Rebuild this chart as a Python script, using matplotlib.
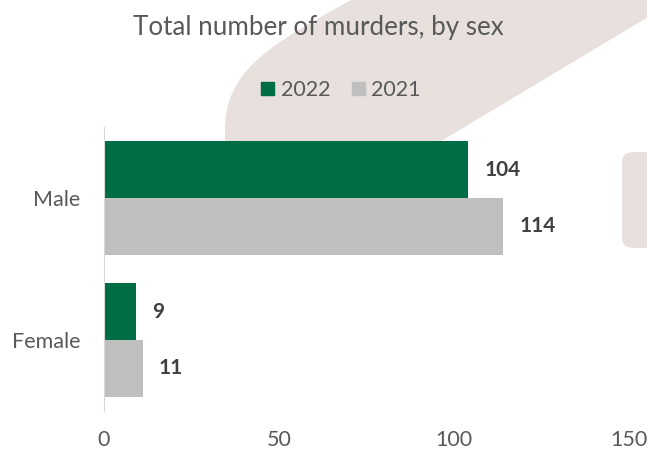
import numpy as np
import matplotlib
matplotlib.use('Agg')
import matplotlib.pyplot as plt
from matplotlib.path import Path
from matplotlib.patches import PathPatch, FancyBboxPatch, Patch

# Datos del gráfico
categorias = ['Female', 'Male']
valores_2022 = [9, 104]
valores_2021 = [11, 114]
ticks_x = [0, 50, 100, 150]

VERDE = '#006e44'
GRIS = '#bfbfbf'
BEIGE = '#e7e0dd'
TEXTO = '#595959'

plt.rcParams['font.family'] = ['Lato', 'DejaVu Sans']

W, H = 647, 453
fig = plt.figure(figsize=(W / 100, H / 100), dpi=100)


def px(x, y):
    """Convierte pixeles (origen arriba-izquierda) a coordenadas de figura"""
    return (x / W, 1 - y / H)


# Marca de agua de fondo (banda diagonal)
pts = [(225, 198), (225, 130), (225, 70), (270, 45), (351, 0),
       (420, -40), (700, -40), (700, -14), (346, 198), (225, 198)]
codes = [Path.MOVETO, Path.LINETO, Path.CURVE4, Path.CURVE4, Path.CURVE4,
         Path.LINETO, Path.LINETO, Path.LINETO, Path.LINETO, Path.CLOSEPOLY]
banda = Path([px(*p) for p in pts], codes)
fig.patches.append(PathPatch(banda, transform=fig.transFigure, facecolor=BEIGE,
                             edgecolor='none', zorder=-5))
x0, y0 = px(622, 248)
x1, y1 = px(670, 152)
fig.patches.append(FancyBboxPatch((x0, y0), x1 - x0, y1 - y0,
                                  boxstyle='round,pad=0,rounding_size=0.02',
                                  transform=fig.transFigure, facecolor=BEIGE,
                                  edgecolor='none', zorder=-5))

ax = fig.add_axes([104 / W, 1 - 411 / H, (629 - 104) / W, (411 - 127) / H])
ax.patch.set_alpha(0)

y = np.arange(len(categorias))
alto = 0.4
b22 = ax.barh(y + alto / 2, valores_2022, height=alto, color=VERDE, label='2022')
b21 = ax.barh(y - alto / 2, valores_2021, height=alto, color=GRIS, label='2021')

for barras in (b22, b21):
    for r in barras:
        v = r.get_width()
        ax.text(v + 4.7, r.get_y() + r.get_height() / 2, f'{v:g}',
                va='center', ha='left', fontsize=15, fontweight='bold',
                color='#404040')

ax.set_xlim(0, 150)
ax.set_ylim(-0.5, 1.5)
ax.set_xticks(ticks_x)
ax.set_yticks(y)
ax.set_yticklabels(categorias)
ax.tick_params(axis='both', length=0, labelsize=15.5, labelcolor=TEXTO)
ax.tick_params(axis='x', pad=14)
ax.tick_params(axis='y', pad=17)
for lado in ['top', 'right', 'bottom']:
    ax.spines[lado].set_visible(False)
ax.spines['left'].set_color('#d9d9d9')

fig.text(318 / W, 1 - 28 / H, 'Total number of murders, by sex',
         ha='center', va='center', fontsize=18.7, color=TEXTO)

handles = [Patch(color=VERDE, label='2022'), Patch(color=GRIS, label='2021')]
fig.legend(handles=handles, loc='center', bbox_to_anchor=px(341, 90), ncol=2,
           frameon=False, fontsize=15.5, handlelength=0.6, handleheight=0.6,
           handletextpad=0.3, columnspacing=1.0, labelcolor=TEXTO)

fig.savefig('out.png', dpi=100)
